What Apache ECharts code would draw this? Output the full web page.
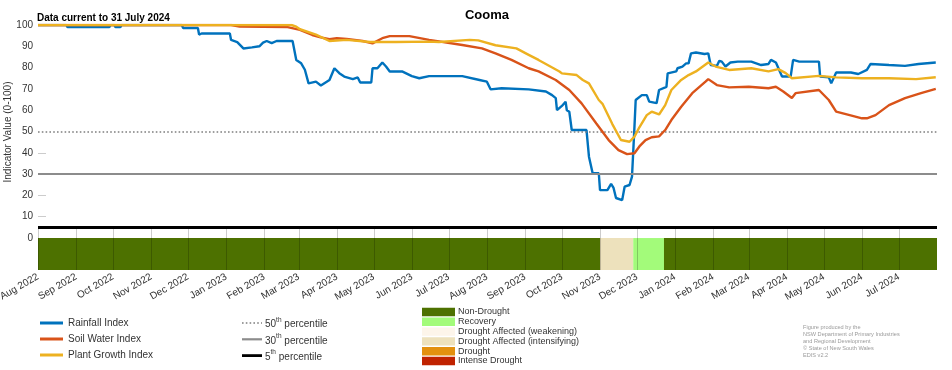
<!DOCTYPE html>
<html>
<head>
<meta charset="utf-8">
<script src="https://cdn.jsdelivr.net/npm/echarts@6.0.0/dist/echarts.min.js"></script>
<style>html,body{margin:0;padding:0;background:#fff}#chart{width:952px;height:370px}</style>
</head>
<body>
<div id="chart"></div>
<script>
// ---------- DATA ----------
const chartTitle = 'Cooma';
const dataNote = 'Data current to 31 July 2024';
const yAxisTitle = 'Indicator Value (0-100)';
const seriesNames = ['Rainfall Index', 'Soil Water Index', 'Plant Growth Index'];
const seriesColors = ['#0072bd', '#d95319', '#edb120'];

const monthTicks = ['2022-08-01','2022-09-01','2022-10-01','2022-11-01','2022-12-01','2023-01-01',
  '2023-02-01','2023-03-01','2023-04-01','2023-05-01','2023-06-01','2023-07-01','2023-08-01',
  '2023-09-01','2023-10-01','2023-11-01','2023-12-01','2024-01-01','2024-02-01','2024-03-01',
  '2024-04-01','2024-05-01','2024-06-01','2024-07-01'];
const monthNames = ['Jan','Feb','Mar','Apr','May','Jun','Jul','Aug','Sep','Oct','Nov','Dec'];
const yTickLabels = [0,10,20,30,40,50,60,70,80,90,100];

const rainfall = [['2022-08-01',100],['2022-08-24',100],['2022-08-25',99],['2022-09-28',99],['2022-09-29',100],
['2022-10-02',100],['2022-10-03',99],['2022-10-07',99],['2022-10-08',100],['2022-11-26',100],['2022-11-27',98.6],
['2022-12-09',98.6],['2022-12-10',95.5],['2022-12-12',96],['2023-01-04',96],['2023-01-05',93],['2023-01-10',92],
['2023-01-15',89],['2023-01-22',89.5],['2023-01-28',90],['2023-01-31',91.7],['2023-02-03',92.5],['2023-02-07',91.5],
['2023-02-11',92.5],['2023-02-24',92.5],['2023-02-27',83.6],['2023-03-03',82],['2023-03-06',79],['2023-03-09',72.6],
['2023-03-15',73.4],['2023-03-19',71.6],['2023-03-26',74.2],['2023-03-30',79.7],['2023-04-03',77.4],['2023-04-07',75.8],
['2023-04-14',74.6],['2023-04-18',75.4],['2023-04-20',73],['2023-04-29',73],['2023-04-30',79.7],['2023-05-04',79.7],
['2023-05-08',82.4],['2023-05-11',80.5],['2023-05-14',78.2],['2023-05-24',78.2],['2023-06-01',76],['2023-06-07',75],
['2023-06-15',76],['2023-07-12',76],['2023-07-26',74.2],['2023-08-01',73.4],['2023-08-04',69.8],['2023-08-13',70.3],
['2023-09-04',69.8],['2023-09-18',68.8],['2023-09-23',67.1],['2023-09-26',65.7],['2023-09-27',60],['2023-10-01',62],
['2023-10-04',64],['2023-10-05',60],['2023-10-07',59.3],['2023-10-09',50.7],['2023-10-21',50.7],['2023-10-23',38.2],
['2023-10-26',30.4],['2023-10-31',30.4],['2023-11-01',22.5],['2023-11-07',22.5],['2023-11-10',25.4],['2023-11-12',23.5],
['2023-11-14',18.8],['2023-11-19',17.8],['2023-11-21',24.1],['2023-11-25',24.9],['2023-11-27',28.8],['2023-11-29',52.3],
['2023-11-30',64.8],['2023-12-05',67.1],['2023-12-09',67.1],['2023-12-11',64],['2023-12-17',63.3],['2023-12-19',69.5],
['2023-12-25',71],['2023-12-26',77.3],['2024-01-02',78.2],['2024-01-03',79.7],['2024-01-07',80.5],['2024-01-10',82],
['2024-01-12',82],['2024-01-14',86.7],['2024-01-18',87.1],['2024-01-25',86.4],['2024-01-28',86.7],['2024-01-30',81.2],
['2024-02-04',80.8],['2024-02-06',83.2],['2024-02-08',82.8],['2024-02-11',80.5],['2024-02-15',82.4],['2024-02-21',82.8],
['2024-03-03',82.8],['2024-03-11',81.2],['2024-03-17',81.7],['2024-03-19',83.6],['2024-03-23',82.4],['2024-03-28',75.8],
['2024-04-04',75.8],['2024-04-06',83.6],['2024-04-11',82.8],['2024-04-27',82.8],['2024-04-28',75.8],['2024-05-05',75.4],
['2024-05-07',72.6],['2024-05-11',77.7],['2024-05-23',77.7],['2024-05-29',77],['2024-06-05',78.9],['2024-06-08',81.7],
['2024-06-23',81.2],['2024-07-06',80.8],['2024-07-17',81.7],['2024-07-31',82.4]];

const soilWater = [['2022-08-01',100],['2023-01-05',100],['2023-01-12',99.3],['2023-02-20',99],['2023-03-02',97.7],
['2023-03-12',95.3],['2023-03-18',94.3],['2023-03-26',93.3],['2023-04-01',93.8],['2023-04-09',93.4],['2023-04-22',92.5],
['2023-04-30',91.4],['2023-05-08',93.8],['2023-05-14',94.8],['2023-05-30',94.8],['2023-06-15',93],['2023-07-12',90.6],
['2023-07-28',89],['2023-08-08',86.7],['2023-08-21',83.6],['2023-09-04',79.7],['2023-09-12',78.2],['2023-09-26',74.2],
['2023-10-07',69.5],['2023-10-17',63.2],['2023-10-29',53.8],['2023-11-08',46],['2023-11-16',41.3],['2023-11-23',39.4],
['2023-11-29',39.8],['2023-12-03',43],['2023-12-08',46],['2023-12-13',47.3],['2023-12-19',47.7],['2023-12-24',50.7],
['2023-12-29',55.4],['2024-01-06',61.6],['2024-01-15',68],['2024-01-26',73.5],['2024-01-28',74.6],['2024-02-04',71.8],
['2024-02-14',70.7],['2024-03-01',71],['2024-03-17',70.3],['2024-03-23',71],['2024-03-29',68.8],['2024-04-05',65.7],
['2024-04-08',68],['2024-04-27',69.5],['2024-05-05',64.8],['2024-05-11',59.3],['2024-05-22',57.7],['2024-06-01',56.2],
['2024-06-05',56.2],['2024-06-12',57.7],['2024-06-23',62.4],['2024-07-06',65.7],['2024-07-19',68],['2024-07-31',70]];

const plantGrowth = [['2022-08-01',100],['2023-02-23',100],['2023-02-27',99.2],['2023-03-02',98],['2023-03-15',95.5],
['2023-03-26',92.5],['2023-04-09',93],['2023-04-28',92],['2023-05-19',92],['2023-06-15',92.2],['2023-06-23',92],
['2023-07-18',93],['2023-07-25',92.8],['2023-08-08',90.5],['2023-08-25',89],['2023-09-04',86],['2023-09-12',83.6],
['2023-09-29',78.2],['2023-10-01',77.3],['2023-10-13',76.5],['2023-10-18',74.2],['2023-10-23',72.6],['2023-10-31',64.8],
['2023-11-03',63],['2023-11-11',53.5],['2023-11-18',46],['2023-11-25',45.2],['2023-11-29',47.6],['2023-12-03',52],
['2023-12-09',57.7],['2023-12-13',59.3],['2023-12-19',58],['2023-12-24',62.4],['2023-12-29',69.5],['2024-01-06',74.2],
['2024-01-12',76.5],['2024-01-18',78.2],['2024-01-28',82.4],['2024-02-03',80.5],['2024-02-14',78.9],['2024-03-03',79.7],
['2024-03-17',78.2],['2024-03-25',79.3],['2024-03-31',77.4],['2024-04-05',75],['2024-04-27',76.1],['2024-05-11',75.4],
['2024-06-01',75],['2024-06-23',75],['2024-07-15',74.6],['2024-07-31',75.5]];

const percentileValues = [50, 30, 5];
const percentileLabels = ['50', '30', '5'];
const percentileSup = ['th', 'th', 'th'];

const statusNames = ['Non-Drought','Recovery','Drought Affected (weakening)','Drought Affected (intensifying)','Drought','Intense Drought'];
const statusColors = ['#4d7100','#a3fb7a','#fdf5ea','#ede1bc','#e3900e','#c02200'];
const statusStart = ['2022-08-01','2023-11-01','2023-11-28','2023-12-23'];
const statusEnd   = ['2023-11-01','2023-11-28','2023-12-23','2024-08-01'];
const statusCode  = [0, 3, 1, 0];

const credits = ['Figure produced by the','NSW Department of Primary Industries','and Regional Development','\u00a9 State of New South Wales','EDIS v2.2'];

// ---------- CHART ----------
const FONT = '"Liberation Sans", Arial, sans-serif';
const chart = echarts.init(document.getElementById('chart'), null, {renderer: 'canvas'});
const toTime = s => { const p = s.split('-'); return new Date(+p[0], +p[1]-1, +p[2]).getTime(); };

const BAND_TOP = 0, BAND_BOTTOM = -15, GRIDLINE_TOP = 5;

const percentileStyles = [
  {color:'#7f7f7f', width:1.6, type:[1.6,2.2]},
  {color:'#8c8c8c', width:2.2, type:'solid'},
  {color:'#000000', width:2.8, type:'solid'}
];

const graphics = [
  {type:'text', x:487, y:15, style:{text:chartTitle, font:'bold 13px ' + FONT, fill:'#000', textAlign:'center', textVerticalAlign:'middle'}},
  {type:'text', x:37, y:18.5, style:{text:dataNote, font:'bold 10px ' + FONT, fill:'#000', textVerticalAlign:'middle'}},
  {type:'text', x:8, y:132, rotation:Math.PI/2, style:{text:yAxisTitle, font:'10px ' + FONT, fill:'#333', textAlign:'center', textVerticalAlign:'middle'}}
];
percentileValues.forEach((p, i) => {
  const y = 323 + i * 16.3;
  const st = percentileStyles[i];
  graphics.push({type:'line', shape:{x1:242, y1:y, x2:262, y2:y},
    style:{stroke:st.color, lineWidth:st.width, lineDash: Array.isArray(st.type) ? st.type : null}});
  graphics.push({type:'text', x:265, y:y, style:{
    text:'{a|' + percentileLabels[i] + '}{b|' + percentileSup[i] + '}{a| percentile}',
    textVerticalAlign:'middle', fill:'#333',
    rich:{a:{fontSize:10, fontFamily:FONT, fill:'#333', lineHeight:13, verticalAlign:'bottom'},
          b:{fontSize:6.5, fontFamily:FONT, fill:'#333', lineHeight:13, verticalAlign:'top'}}}});
});
statusNames.forEach((n, i) => {
  const y = 312 + i * 9.8;
  graphics.push({type:'rect', shape:{x:422, y:y-4.2, width:33, height:8.4}, style:{fill:statusColors[i]}});
  graphics.push({type:'text', x:458, y:y, style:{text:n, font:'9px ' + FONT, fill:'#333', textVerticalAlign:'middle'}});
});
credits.forEach((c, i) => {
  graphics.push({type:'text', x:803, y:327 + i * 7.2, style:{text:c, font:'5.6px ' + FONT, fill:'#9a9a9a', textVerticalAlign:'middle'}});
});

const option = {
  animation: false,
  backgroundColor: '#fff',
  textStyle: {fontFamily: FONT},
  grid: {left: 38, right: 15, top: 25, bottom: 100, containLabel: false, outerBoundsMode: 'none'},
  legend: {
    orient: 'vertical', left: 35, top: 313, itemWidth: 23, itemHeight: 3, itemGap: 6, icon: 'rect',
    textStyle: {fontSize: 10, color: '#333', fontFamily: FONT},
    data: seriesNames
  },
  xAxis: {
    type: 'value', min: toTime('2022-08-01'), max: toTime('2024-08-01'),
    axisLine: {show: false}, axisTick: {show: false}, splitLine: {show: false},
    axisLabel: {
      rotate: 30, fontSize: 10, color: '#333', margin: 6, fontFamily: FONT,
      customValues: monthTicks.map(toTime),
      formatter: v => { const d = new Date(v); return monthNames[d.getMonth()] + ' ' + d.getFullYear(); }
    }
  },
  yAxis: {
    type: 'value', min: BAND_BOTTOM, max: 100,
    axisLine: {show: false}, splitLine: {show: false},
    axisTick: {show: true, inside: true, length: 8, lineStyle: {color: 'rgba(0,0,0,0.2)', width: 1}, customValues: [-7.5, 10, 20, 40]},
    axisLabel: {fontSize: 10, color: '#333', margin: 5, fontFamily: FONT, customValues: yTickLabels}
  },
  graphic: graphics,
  series: [
    {
      name: 'status', type: 'custom', silent: true, z: 1,
      data: statusStart.map((s, i) => [toTime(s), toTime(statusEnd[i]), statusCode[i]]),
      encode: {x: [0, 1]},
      renderItem: (params, api) => {
        const p1 = api.coord([api.value(0), BAND_TOP]);
        const p2 = api.coord([api.value(1), BAND_BOTTOM]);
        return {type: 'rect', shape: {x: p1[0], y: p1[1], width: p2[0] - p1[0], height: p2[1] - p1[1]},
          style: {fill: statusColors[api.value(2)]}};
      }
    },
    {
      name: 'monthLines', type: 'custom', silent: true, z: 2,
      data: monthTicks.map(m => [toTime(m)]),
      encode: {x: 0},
      renderItem: (params, api) => {
        const a = api.coord([api.value(0), GRIDLINE_TOP]);
        const b = api.coord([api.value(0), BAND_BOTTOM]);
        return {type: 'line', shape: {x1: Math.round(a[0]) + 0.5, y1: a[1], x2: Math.round(b[0]) + 0.5, y2: b[1]},
          style: {stroke: 'rgba(0,0,0,0.2)', lineWidth: 1}};
      }
    },
    {
      name: 'percentiles', type: 'line', data: [], z: 3, silent: true,
      markLine: {
        symbol: 'none', silent: true, label: {show: false}, animation: false,
        data: percentileValues.map((p, i) => ({yAxis: p, lineStyle: percentileStyles[i]}))
      }
    },
    ...[rainfall, soilWater, plantGrowth].map((d, i) => ({
      name: seriesNames[i], type: 'line', z: 4 + i, showSymbol: false, symbol: 'none',
      data: d.map(p => [toTime(p[0]), p[1]]),
      lineStyle: {color: seriesColors[i], width: 2.4},
      itemStyle: {color: seriesColors[i]}
    }))
  ]
};
chart.setOption(option);
</script>
</body>
</html>
